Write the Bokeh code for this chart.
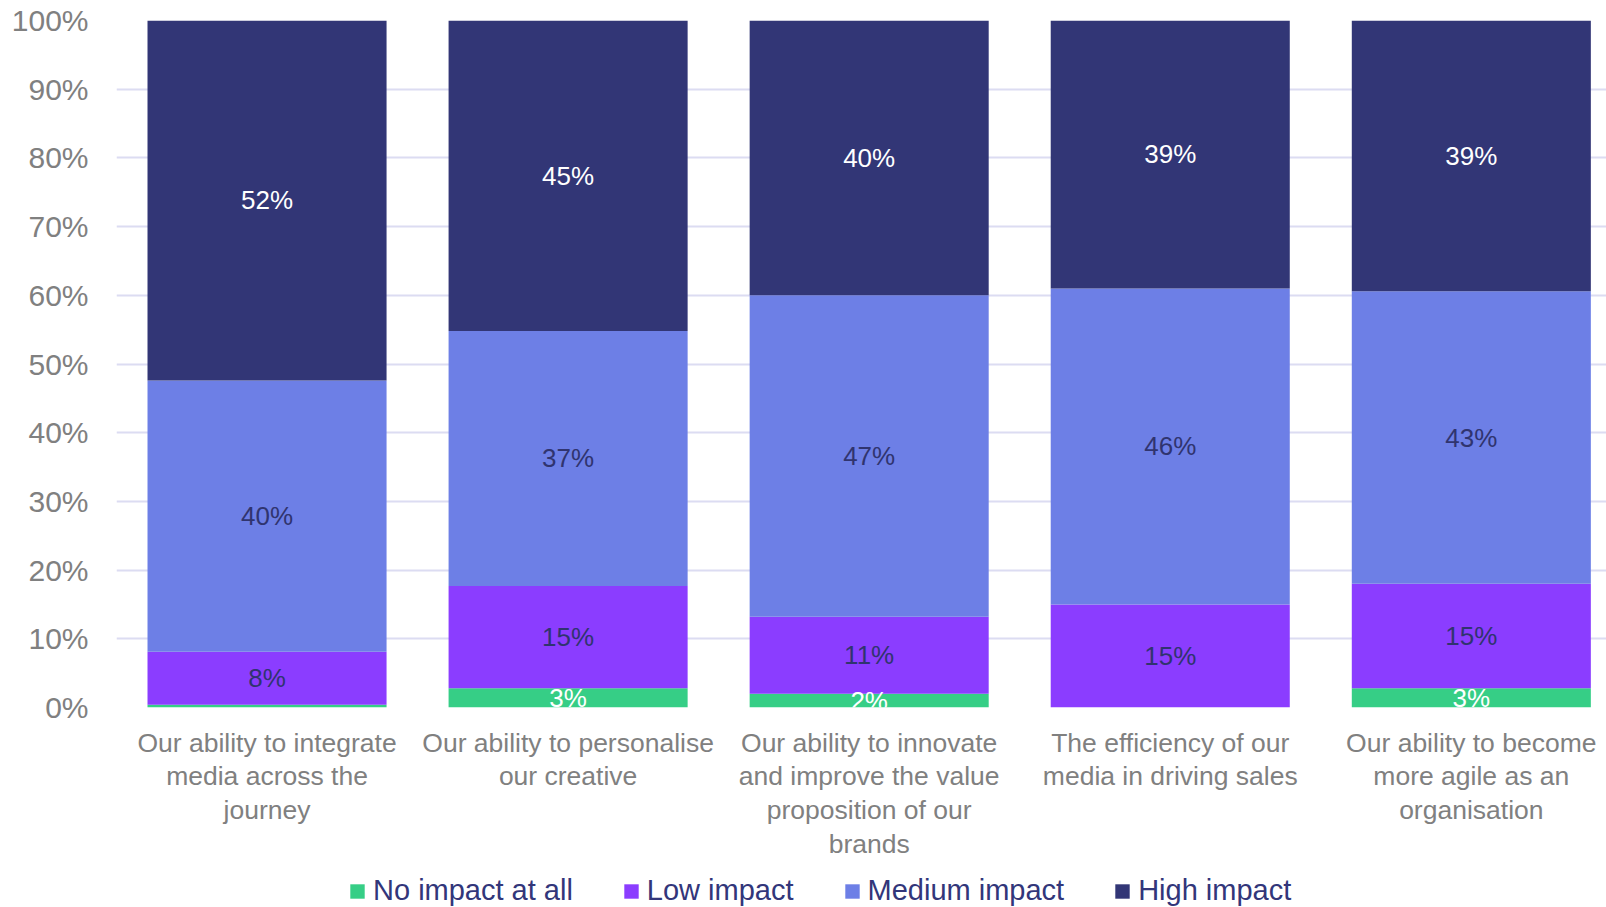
from bokeh.plotting import figure
from bokeh.layouts import column
from bokeh.models import Range1d, FixedTicker, PrintfTickFormatter, ColumnDataSource, Legend
from bokeh.core.properties import value
from bokeh.embed import file_html
from bokeh.resources import INLINE

categories = [
    "Our ability to integrate\nmedia across the\njourney",
    "Our ability to personalise\nour creative",
    "Our ability to innovate\nand improve the value\nproposition of our\nbrands",
    "The efficiency of our\nmedia in driving sales",
    "Our ability to become\nmore agile as an\norganisation",
]
series_names = ["No impact at all", "Low impact", "Medium impact", "High impact"]
no_impact = [0.4, 2.8, 2.0, 0.0, 2.8]
low_impact = [7.7, 14.9, 11.2, 15.0, 15.2]
medium_impact = [39.5, 37.1, 46.8, 46.0, 42.6]
high_impact = [52.4, 45.2, 40.0, 39.0, 39.4]
y_ticks = [0, 10, 20, 30, 40, 50, 60, 70, 80, 90, 100]

colors = ["#36ce86", "#8b3dff", "#6d7fe6", "#323676"]
label_colors = ["#ffffff", "#30346f", "#30346f", "#ffffff"]
FONT = "Liberation Sans"

xs = list(range(len(categories)))
src = ColumnDataSource(dict(x=xs, none=no_impact, low=low_impact, med=medium_impact, high=high_impact))
stack_keys = ["none", "low", "med", "high"]

p = figure(width=1606, height=870, output_backend="svg", toolbar_location=None,
           x_range=Range1d(-0.5, 4.449), y_range=Range1d(0, 100),
           min_border_left=116, min_border_top=20, min_border_right=0, min_border_bottom=163)
p.outline_line_color = None
p.background_fill_color = "white"

r = p.vbar_stack(stack_keys, x="x", width=0.794, source=src, color=colors, line_color=None)

# data labels
series = [no_impact, low_impact, medium_impact, high_impact]
lx, ly, lt, lc = [], [], [], []
for i in xs:
    base = 0.0
    for s, vals in enumerate(series):
        v = vals[i]
        if v >= 1:
            lx.append(i)
            ly.append(base + v / 2)
            lt.append(f"{round(v)}%")
            lc.append(label_colors[s])
        base += v
lsrc = ColumnDataSource(dict(x=lx, y=ly, t=lt, c=lc))
p.text(x="x", y="y", text="t", text_color="c", source=lsrc, text_align="center",
       text_baseline="middle", text_font=value(FONT), text_font_size="26px")

# axes
p.yaxis.ticker = FixedTicker(ticks=y_ticks)
p.yaxis.formatter = PrintfTickFormatter(format="%d%%")
p.yaxis.axis_line_color = None
p.yaxis.major_tick_line_color = None
p.yaxis.minor_tick_line_color = None
p.yaxis.major_tick_out = 0
p.yaxis.major_label_standoff = 28
p.yaxis.major_label_text_font = FONT
p.yaxis.major_label_text_font_size = "30px"
p.yaxis.major_label_text_color = "#808080"

p.xaxis.ticker = FixedTicker(ticks=xs)
p.xaxis.major_label_overrides = {i: c for i, c in zip(xs, categories)}
p.xaxis.axis_line_color = None
p.xaxis.major_tick_line_color = None
p.xaxis.minor_tick_line_color = None
p.xaxis.major_tick_out = 0
p.xaxis.major_label_standoff = 20
p.xaxis.major_label_text_font = FONT
p.xaxis.major_label_text_font_size = "26.5px"
p.xaxis.major_label_text_line_height = 1.13
p.xaxis.major_label_text_color = "#808080"

p.xgrid.grid_line_color = None
p.ygrid.grid_line_color = "#dcdcf2"
p.ygrid.grid_line_width = 2

# legend strip below the chart (its own renderers lie outside its visible range)
lf = figure(width=1606, height=37, output_backend="svg", toolbar_location=None,
            x_range=Range1d(-3, -2), y_range=Range1d(0, 1), min_border=0)
lf.axis.visible = False
lf.grid.grid_line_color = None
lf.outline_line_color = None
lrs = lf.vbar_stack(stack_keys, x="x", width=0.794, source=src, color=colors, line_color=None)

legend = Legend(items=[(n, [rr]) for n, rr in zip(series_names, lrs)],
                orientation="horizontal", location=(232, 0))
legend.label_text_font = FONT
legend.label_text_font_size = "29px"
legend.label_text_color = "#32367a"
legend.glyph_width = 18
legend.glyph_height = 18
legend.label_standoff = 7
legend.spacing = 49
legend.padding = 0
legend.margin = 0
legend.border_line_color = None
legend.background_fill_alpha = 0
lf.add_layout(legend)

layout = column(p, lf, spacing=0)
open("out.html", "w").write(file_html(layout, INLINE))
